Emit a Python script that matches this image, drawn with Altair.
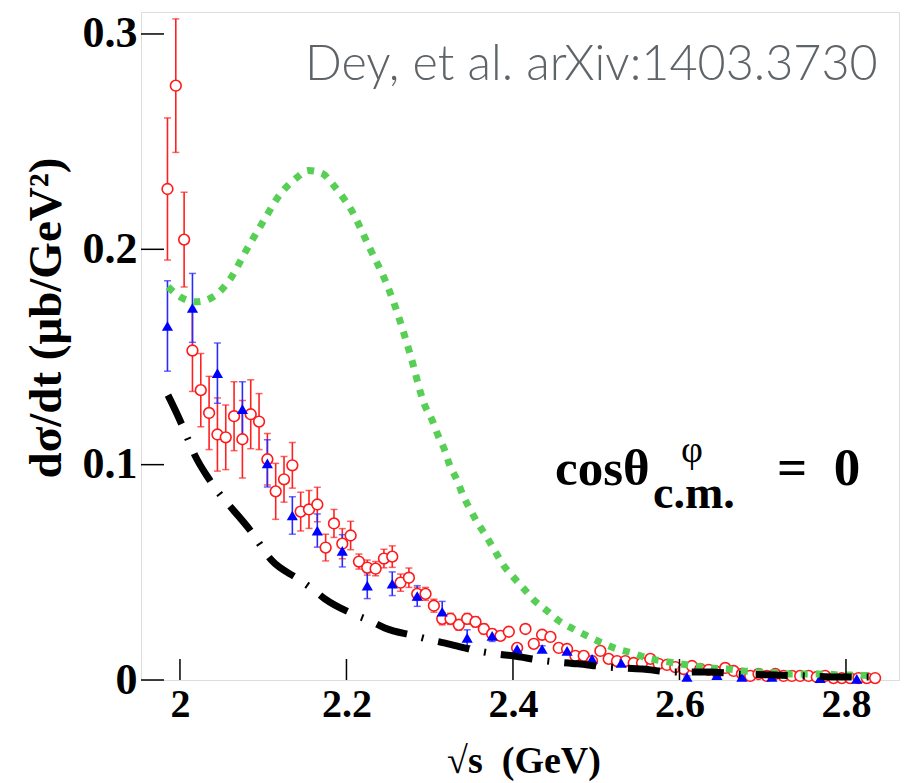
import altair as alt
import pandas as pd

# ---------------- data ----------------
red_x = [1.985, 1.995, 2.005, 2.015, 2.025, 2.035, 2.045, 2.055, 2.065, 2.075,
         2.085, 2.095, 2.105, 2.115, 2.125, 2.135, 2.145, 2.155, 2.165, 2.175,
         2.185, 2.195, 2.205, 2.215, 2.225, 2.235, 2.245, 2.255, 2.265, 2.275,
         2.285, 2.295, 2.305, 2.315, 2.325, 2.335, 2.345, 2.355, 2.365, 2.375,
         2.385, 2.395, 2.405, 2.415, 2.425, 2.435, 2.445, 2.455, 2.465, 2.475,
         2.485, 2.495, 2.505, 2.515, 2.525, 2.535, 2.545, 2.555, 2.565, 2.575,
         2.585, 2.595, 2.605, 2.615, 2.625, 2.635, 2.645, 2.655, 2.665, 2.675,
         2.685, 2.695, 2.705, 2.715, 2.725, 2.735, 2.745, 2.755, 2.765, 2.775,
         2.785, 2.795, 2.805, 2.815, 2.825, 2.835]
red_y = [0.228, 0.276, 0.2045, 0.153, 0.1346, 0.124, 0.114, 0.1127, 0.1225, 0.1118,
         0.1234, 0.120, 0.1025, 0.0876, 0.0932, 0.0997, 0.0782, 0.0792, 0.0815, 0.0615,
         0.0727, 0.0633, 0.0671, 0.055, 0.0522, 0.0517, 0.0564, 0.0573, 0.0452, 0.0475,
         0.040, 0.040, 0.0345, 0.0284, 0.0284, 0.0256, 0.0284, 0.027, 0.0237, 0.0214,
         0.0205, 0.0224, 0.0149, 0.0237, 0.0168, 0.021, 0.020, 0.0149, 0.0144, 0.0112,
         0.0112, 0.0088, 0.0135, 0.0098, 0.0088, 0.0088, 0.0079, 0.0079, 0.0098, 0.0075,
         0.007, 0.006, 0.0051, 0.0065, 0.0051, 0.0047, 0.0037, 0.0056, 0.0042, 0.0028,
         0.0019, 0.0028, 0.0019, 0.0028, 0.0019, 0.0019, 0.0019, 0.0019, 0.0014, 0.0019,
         0.0009, 0.0009, 0.0009, 0.0009, 0.0009, 0.0009]
red_err = [0.033, 0.031, 0.022, 0.019, 0.017, 0.017, 0.017, 0.015, 0.016, 0.018,
           0.016, 0.013, 0.012, 0.013, 0.0106, 0.0106, 0.009, 0.0088, 0.008, 0.0062,
           0.0065, 0.007, 0.0066, 0.0035, 0.0035, 0.0033, 0.0043, 0.005, 0.004, 0.0045,
           0.003, 0.003, 0.003, 0.0028, 0.0026, 0.0025, 0.0025, 0.0024, 0.0023, 0.0022,
           0.002, 0.002, 0.0018, 0.0018, 0.0017, 0.0017, 0.0016, 0.0015, 0.0015, 0.0014,
           0.0014, 0.0013, 0.0013, 0.0012, 0.0012, 0.0011, 0.0011, 0.001, 0.001, 0.001,
           0.001, 0.0009, 0.0009, 0.0009, 0.0008, 0.0008, 0.0008, 0.0008, 0.0007, 0.0007,
           0.0007, 0.0007, 0.0006, 0.0006, 0.0006, 0.0006, 0.0006, 0.0005, 0.0005, 0.0005,
           0.0005, 0.0005, 0.0005, 0.0005, 0.0005, 0.0005]

blue_x = [1.985, 2.015, 2.045, 2.075, 2.105, 2.135, 2.165, 2.195, 2.225, 2.255,
          2.285, 2.315, 2.345, 2.375, 2.405, 2.435, 2.465, 2.495, 2.530, 2.609,
          2.645, 2.675, 2.711, 2.769, 2.813]
blue_y = [0.1644, 0.1728, 0.1425, 0.1258, 0.1006, 0.0764, 0.0694, 0.060, 0.0438, 0.0447,
          0.039, 0.0317, 0.0196, 0.0205, 0.0144, 0.0144, 0.0135, 0.0098, 0.0079, 0.0014,
          0.0023, 0.0014, 0.0014, 0.0009, 0.0005]
blue_err = [0.021, 0.016, 0.014, 0.0127, 0.011, 0.0087, 0.0077, 0.0075, 0.006, 0.0055,
            0.0048, 0.0048, 0.0037, 0.0026, 0.002, 0.0015, 0.0015, 0.0012, 0.001, 0.0005,
            0.0005, 0.0005, 0.0005, 0.0005, 0.0005]

green_x = [1.9856, 2.000, 2.020, 2.040, 2.060, 2.080, 2.100, 2.120, 2.1405, 2.154,
           2.171, 2.184, 2.196, 2.207, 2.216, 2.228, 2.246, 2.258, 2.276, 2.294,
           2.303, 2.310, 2.318, 2.324, 2.333, 2.340, 2.348, 2.358, 2.369, 2.378,
           2.388, 2.400, 2.413, 2.426, 2.441, 2.455, 2.472, 2.489, 2.507, 2.525,
           2.543, 2.561, 2.580, 2.601, 2.619, 2.637, 2.658, 2.676, 2.697, 2.717,
           2.735, 2.754, 2.775, 2.793, 2.813, 2.831]
green_y = [0.1826, 0.178, 0.1756, 0.178, 0.186, 0.1998, 0.2129, 0.2254, 0.2333, 0.2366,
           0.2352, 0.230, 0.224, 0.2175, 0.2105, 0.2005, 0.186, 0.174, 0.152, 0.1276,
           0.1206, 0.1136, 0.1067, 0.0997, 0.0927, 0.0857, 0.0796, 0.0727, 0.0661, 0.0601,
           0.0536, 0.048, 0.0424, 0.0368, 0.0321, 0.0275, 0.0238, 0.0205, 0.0172, 0.0144,
           0.0126, 0.0102, 0.0088, 0.0075, 0.0065, 0.0056, 0.0051, 0.0042, 0.0037, 0.0033,
           0.0028, 0.0028, 0.0028, 0.0023, 0.0023, 0.0019]

black_x = [1.9856, 2.001, 2.0096, 2.018, 2.036, 2.085, 2.1105, 2.1417, 2.1586, 2.174,
           2.2078, 2.228, 2.246, 2.282, 2.303, 2.322, 2.358, 2.38, 2.4, 2.436,
           2.478, 2.514, 2.556, 2.592, 2.637, 2.673, 2.715, 2.751, 2.793, 2.829]
black_y = [0.1323, 0.1197, 0.1118, 0.1043, 0.0927, 0.0692, 0.0554, 0.047, 0.0424, 0.0377,
           0.0307, 0.0275, 0.0242, 0.0205, 0.0184, 0.0168, 0.0135, 0.0121, 0.0112, 0.009,
           0.0075, 0.006, 0.0051, 0.0037, 0.0037, 0.0028, 0.0023, 0.0019, 0.0014, 0.0014]

x_ticks = [2.0, 2.2, 2.4, 2.6, 2.8]
y_ticks = [0.0, 0.1, 0.2, 0.3]

X_DOMAIN = [1.9532, 2.8637]
Y_DOMAIN = [0.0, 0.3102]
W, H = 758, 668

red = pd.DataFrame({"x": red_x, "y": red_y, "e": red_err})
red["lo"] = red["y"] - red["e"]
red["hi"] = red["y"] + red["e"]
blue = pd.DataFrame({"x": blue_x, "y": blue_y, "e": blue_err})
blue["lo"] = blue["y"] - blue["e"]
blue["hi"] = blue["y"] + blue["e"]
green = pd.DataFrame({"x": green_x, "y": green_y})
black = pd.DataFrame({"x": black_x, "y": black_y})

SERIF = "Liberation Serif"
NB = "\u00a0"

xs = alt.Scale(domain=X_DOMAIN, nice=False, zero=False)
ys = alt.Scale(domain=Y_DOMAIN, nice=False, zero=False)

X = alt.X("x:Q", scale=xs, axis=alt.Axis(
    values=x_ticks, format=".1~f", title=None, domain=False, ticks=False, grid=False,
    labelFont=SERIF, labelFontWeight="bold", labelFontSize=40, labelColor="black",
    labelPadding=4, labelFlush=False))
Y = alt.Y("y:Q", scale=ys, axis=alt.Axis(
    values=y_ticks, format=".1~f", title=None, domain=False, ticks=False, grid=False,
    labelFont=SERIF, labelFontWeight="bold", labelFontSize=44, labelColor="black",
    labelPadding=4, labelFlush=False))

# error bars
def errbars(df, color):
    base = alt.Chart(df)
    rule = base.mark_rule(color=color, strokeWidth=1.6).encode(
        x=alt.X("x:Q", scale=xs), y=alt.Y("lo:Q", scale=ys), y2="hi:Q")
    cap_lo = base.mark_tick(color=color, orient="horizontal", size=7, thickness=1.5).encode(
        x=alt.X("x:Q", scale=xs), y=alt.Y("lo:Q", scale=ys))
    cap_hi = base.mark_tick(color=color, orient="horizontal", size=7, thickness=1.5).encode(
        x=alt.X("x:Q", scale=xs), y=alt.Y("hi:Q", scale=ys))
    return rule + cap_lo + cap_hi

red_err_layer = errbars(red, "#ff2020")
blue_err_layer = errbars(blue, "#2a2aff")

red_pts = alt.Chart(red).mark_point(shape="circle", filled=True, fill="white",
                                    stroke="#ff1a1a", strokeWidth=1.6, size=115, opacity=1).encode(x=X, y=Y)
blue_pts = alt.Chart(blue).mark_point(shape="triangle-up", filled=True, color="#0000ff",
                                      size=125, opacity=1).encode(x=alt.X("x:Q", scale=xs), y=alt.Y("y:Q", scale=ys))

green_line = alt.Chart(green).mark_line(color="#57cf55", strokeWidth=7, strokeDash=[7, 8],
                                        strokeCap="butt", interpolate="monotone").encode(
    x=alt.X("x:Q", scale=xs), y=alt.Y("y:Q", scale=ys))
black_line = alt.Chart(black).mark_line(color="black", strokeWidth=7, strokeDash=[32, 15, 2, 15],
                                        strokeCap="butt", interpolate="monotone").encode(
    x=alt.X("x:Q", scale=xs), y=alt.Y("y:Q", scale=ys))

# inward ticks
xt = alt.Chart(pd.DataFrame({"x": x_ticks})).mark_rule(color="black", strokeWidth=1.5).encode(
    x=alt.X("x:Q", scale=xs), y=alt.value(H), y2=alt.value(H - 21))
yt = alt.Chart(pd.DataFrame({"y": y_ticks})).mark_rule(color="black", strokeWidth=1.5).encode(
    y=alt.Y("y:Q", scale=ys), x=alt.value(0), x2=alt.value(23))

def label(text, x, y, size, font=SERIF, weight="bold", color="black", angle=0, align="left", baseline="alphabetic"):
    return alt.Chart(pd.DataFrame({"t": [text]})).mark_text(
        font=font, fontWeight=weight, fontSize=size, color=color, angle=angle,
        align=align, baseline=baseline).encode(x=alt.value(x), y=alt.value(y), text="t:N")

texts = (
    label("Dey, et al. arXiv:1403.3730", 164, 68, 48.5, font="Lato", weight=300, color="#5f6469")
    + label("cosθ", 414, 473, 51)
    + label("φ", 551, 450, 38, weight="normal", align="center")
    + label("c.m.", 512, 496, 46)
    + label("=" + NB + NB + "0", 636, 473, 53)
    + label("dσ/dt (μb/GeV²)", -94, 306, 47, angle=270, align="center", baseline="middle")
    + label("√s" + NB + NB + "(GeV)", 383, 761, 38, align="center")
)

chart = alt.layer(
    red_err_layer, blue_err_layer, red_pts, blue_pts, green_line, black_line, xt, yt, texts
).properties(
    width=W, height=H,
    padding={"left": 141, "top": 12, "right": 9, "bottom": 103},
    autosize=alt.AutoSizeParams(type="none"),
).configure_view(stroke="black", strokeWidth=1.5).configure(background="white")

chart.save("out.html", embed_options={"renderer": "svg", "actions": False})
